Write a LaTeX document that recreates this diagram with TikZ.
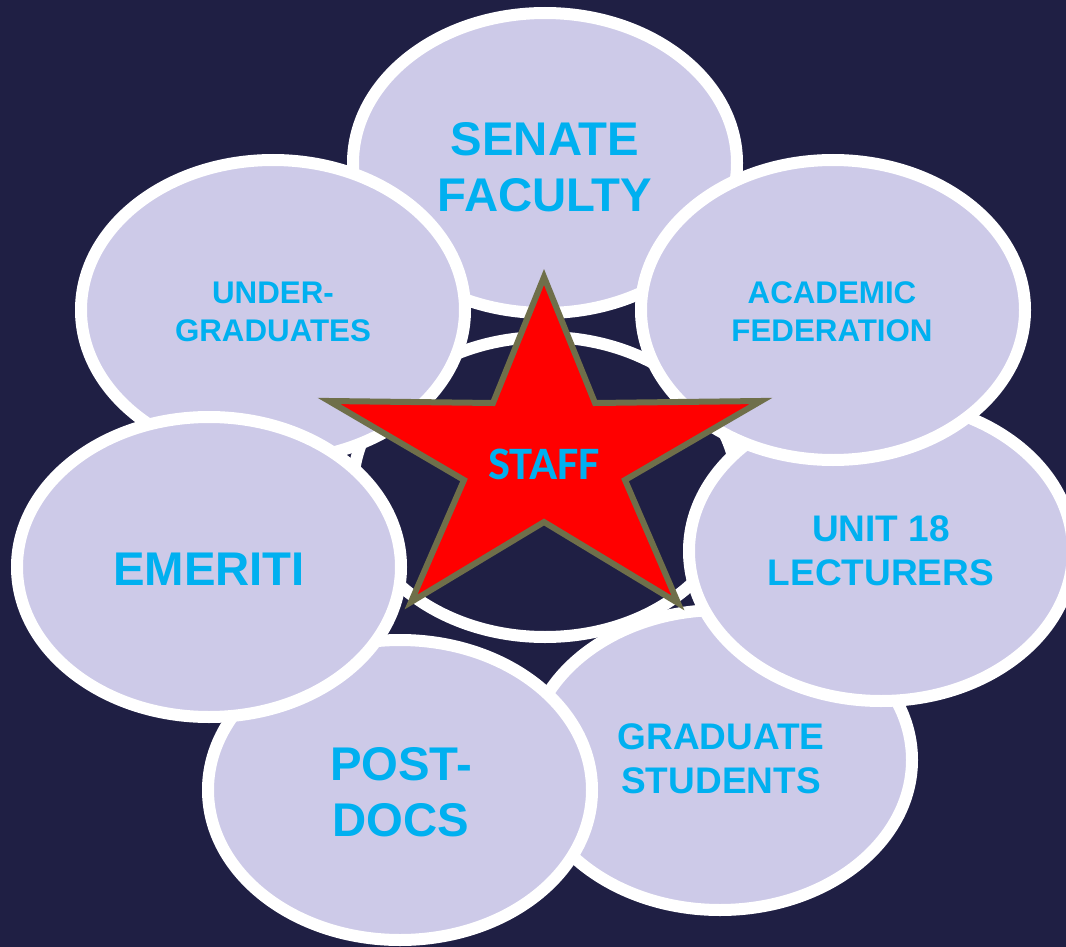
\documentclass[tikz,border=0pt]{standalone}
\usepackage{fontspec}
\setmainfont{Liberation Sans}
\newfontfamily\staffont{Carlito}
\usetikzlibrary{shapes.geometric}
\definecolor{bgc}{RGB}{31,31,68}
\definecolor{ellc}{RGB}{205,202,232}
\definecolor{txtc}{RGB}{0,176,240}
\definecolor{starc}{RGB}{255,0,0}
\definecolor{stard}{RGB}{111,111,74}
\begin{document}
\begin{tikzpicture}[x=1pt,y=-1pt,
  ell/.style={ellipse, draw=white, line width=12pt, fill=ellc,
    minimum width=384pt, minimum height=300pt, inner sep=0pt},
  lbl/.style={text=txtc, align=center, inner sep=0pt},
  big/.style={font={\bfseries\fontsize{47.3}{56}\selectfont}},
  mid/.style={font={\bfseries\fontsize{37}{44.5}\selectfont}},
  small/.style={font={\bfseries\fontsize{31.3}{38}\selectfont}},
  starshape/.style={fill=starc, draw=stard, line width=6pt, line join=miter},
]
\useasboundingbox (0,0) rectangle (1066,947);
\clip (0,0) rectangle (1066,947);
\fill[bgc] (0,0) rectangle (1066,947);

% centre ring
\node[ell, fill=bgc] (core) at (545,487) {};
% outer ellipses (stacking order as in the reference)
\node[ell] (sen) at (545,163) {};
\node[ell] (grad) at (720,760) {};
\node[ell] (unit) at (881,551) {};
\node[ell] (post) at (400,790) {};
\node[ell] (under) at (273,310) {};
\node[ell] (acad) at (833,310) {};
\node[ell] (emer) at (209,567) {};

% labels
\node[lbl, big] (sent) at (545,167.5) {SENATE\\FACULTY};
\node[lbl, small] (undert) at (273,311.7) {UNDER-\\GRADUATES};
\node[lbl, small] (acadt) at (832,311.7) {ACADEMIC\\FEDERATION};
\node[lbl, mid] (unitt) at (881,551) {UNIT 18\\LECTURERS};
\node[lbl, mid] (gradt) at (721,759) {GRADUATE\\STUDENTS};
\node[lbl, big] (postt) at (401,792) {POST-\\DOCS};
\node[lbl, font={\bfseries\fontsize{47.3}{56}\selectfont}, anchor=base] (emert) at (209,585) {EMERITI};

% star
\draw[starshape] (544,277) -- (595,403) -- (761,401) -- (625,480) -- (678,603)
  -- (544,522) -- (411,602) -- (464,480) -- (329,401) -- (493,403) -- cycle;
\node[lbl, font={\staffont\bfseries\fontsize{46.5}{52}\selectfont}, anchor=base] (staff) at (544,479) {STAFF};
\end{tikzpicture}
\end{document}
